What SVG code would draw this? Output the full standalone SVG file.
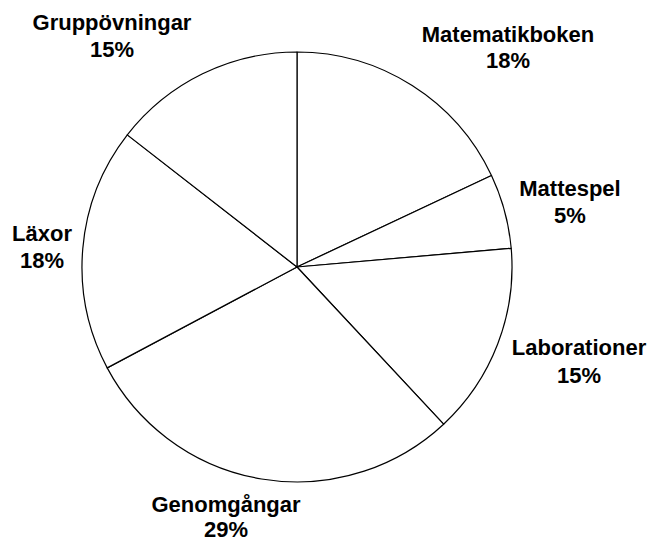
<svg xmlns="http://www.w3.org/2000/svg" width="650" height="543" viewBox="0 0 650 543">
<style>
.slice{fill:#fff;stroke:#000;stroke-width:1.2;stroke-linejoin:round}
.lbl{font-family:"Liberation Sans",Arial,sans-serif;font-weight:bold;font-size:22px;fill:#000;text-anchor:middle}
</style>
<rect width="650" height="543" fill="#fff"/>
<g id="pie">
<g id="matematikboken">
<path class="slice" d="M297,267 L297,52 A215,215 0 0 1 491.5,175.5 Z"/>
<text class="lbl" x="508" y="42">Matematikboken</text>
<text class="lbl" x="508" y="68">18%</text>
</g>
<g id="mattespel">
<path class="slice" d="M297,267 L491.5,175.5 A215,215 0 0 1 511.2,248.3 Z"/>
<text class="lbl" x="570" y="196">Mattespel</text>
<text class="lbl" x="570" y="223">5%</text>
</g>
<g id="laborationer">
<path class="slice" d="M297,267 L511.2,248.3 A215,215 0 0 1 443.6,424.2 Z"/>
<text class="lbl" x="579" y="355">Laborationer</text>
<text class="lbl" x="579" y="383">15%</text>
</g>
<g id="genomgangar">
<path class="slice" d="M297,267 L443.6,424.2 A215,215 0 0 1 107.2,367.9 Z"/>
<text class="lbl" x="226" y="512">Genomgångar</text>
<text class="lbl" x="226" y="537">29%</text>
</g>
<g id="laxor">
<path class="slice" d="M297,267 L107.2,367.9 A215,215 0 0 1 127.3,134.9 Z"/>
<text class="lbl" x="42" y="241">Läxor</text>
<text class="lbl" x="42" y="268">18%</text>
</g>
<g id="gruppovningar">
<path class="slice" d="M297,267 L127.3,134.9 A215,215 0 0 1 297,52 Z"/>
<text class="lbl" x="112" y="30">Gruppövningar</text>
<text class="lbl" x="112" y="57">15%</text>
</g>
</g>
<g id="connectors"></g>
</svg>
